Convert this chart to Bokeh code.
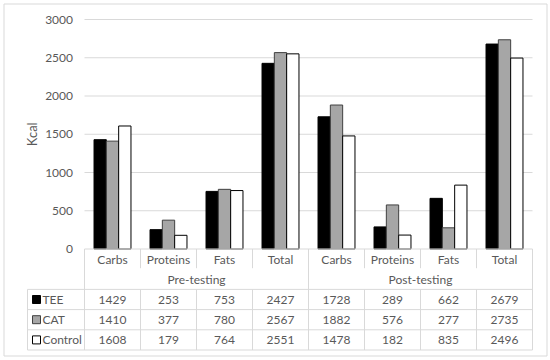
import math
from bokeh.plotting import figure
from bokeh.models import ColumnDataSource, Range1d
from bokeh.core.properties import value
from bokeh.embed import file_html
from bokeh.resources import INLINE

# ---- data ----
nutrients = ["Carbs", "Proteins", "Fats", "Total"]
phases = ["Pre-testing", "Post-testing"]
series = ["TEE", "CAT", "Control"]
tee = [1429, 253, 753, 2427, 1728, 289, 662, 2679]
cat = [1410, 377, 780, 2567, 1882, 576, 277, 2735]
control = [1608, 179, 764, 2551, 1478, 182, 835, 2496]
y_ticks = [0, 500, 1000, 1500, 2000, 2500, 3000]
y_label = "Kcal"

# ---- style ----
FONT = "Lato"
TXT = "#595959"
GRID = "#d9d9d9"
FS = "12px"
fills = ["#000000", "#a6a6a6", "#ffffff"]
outlines = ["#000000", "#404040", "#000000"]

W, H = 550, 360
n = len(phases) * len(nutrients)
cat_labels = nutrients * len(phases)
centers = [i + 0.5 for i in range(n)]
bar_w = 0.22
offsets = [-bar_w, 0.0, bar_w]
all_series = [tee, cat, control]

# ---- geometry (screen px -> data ranges) ----
col_px = 56.0          # one category column
x0_px = 84.0           # left edge of first category
ytop_px, ybot_px = 19.0, 248.5   # y=3000 and y=0
ymax = y_ticks[-1]
kpp = ymax / (ybot_px - ytop_px)  # kcal per px
row_px = 20.2

x_range = Range1d(-x0_px / col_px, (W - x0_px) / col_px)
y_range = Range1d(-(H - ybot_px) * kpp, ymax + ytop_px * kpp)

p = figure(width=W, height=H, x_range=x_range, y_range=y_range,
           output_backend="svg", toolbar_location=None,
           x_axis_location=None, y_axis_location=None,
           min_border_left=0, min_border_right=0, min_border_top=0, min_border_bottom=0)
p.extra_y_ranges = {"tbl": Range1d((H - ybot_px) / row_px, -ybot_px / row_px)}
p.outline_line_color = None
p.grid.visible = False
p.background_fill_color = "white"
p.border_fill_color = "white"

# outer chart border
p.quad(left=[(3.5 - x0_px) / col_px], right=[(546.5 - x0_px) / col_px],
       top=[(3.5 - ybot_px) / row_px], bottom=[(355.5 - ybot_px) / row_px],
       y_range_name="tbl", fill_color=None, line_color=GRID, line_width=1)

# gridlines
gy = y_ticks[1:]
p.segment(x0=[0] * len(gy), x1=[n] * len(gy), y0=gy, y1=gy, line_color=GRID, line_width=1)

# y tick labels and axis title
p.text(x=[-11.5 / col_px] * len(y_ticks), y=y_ticks, text=[str(v) for v in y_ticks],
       text_font=value(FONT), text_font_size=FS, text_color=TXT,
       text_align="right", text_baseline="middle")
p.text(x=[(31 - x0_px) / col_px], y=[ymax / 2], text=[y_label], angle=math.pi / 2,
       text_font=value(FONT), text_font_size="13px", text_color=TXT,
       text_align="center", text_baseline="middle")

# bars
for vals, off, fc, lc in zip(all_series, offsets, fills, outlines):
    src = ColumnDataSource(dict(x=[c + off for c in centers], top=vals))
    p.vbar(x="x", top="top", bottom=0, width=bar_w, source=src,
           fill_color=fc, line_color=lc, line_width=1)

# ---- data table (row units, y grows downward) ----
legend_w = 57 / col_px
hy = [0, 2, 3, 4, 5]
hx0 = [0, -legend_w, -legend_w, -legend_w, -legend_w]
p.segment(x0=hx0, y0=hy, x1=[n] * len(hy), y1=hy, y_range_name="tbl",
          line_color=GRID, line_width=1)
vx, vy0, vy1 = [-legend_w], [2], [5]
group_edges = [k * len(nutrients) for k in range(len(phases) + 1)]
for i in range(n + 1):
    if i in group_edges:
        vx.append(i); vy0.append(0); vy1.append(5)
    else:
        vx.append(i); vy0.append(0); vy1.append(0.95)
        vx.append(i); vy0.append(2); vy1.append(5)
p.segment(x0=vx, y0=vy0, x1=vx, y1=vy1, y_range_name="tbl", line_color=GRID, line_width=1)

common = dict(text_font=value(FONT), text_font_size=FS, text_color=TXT,
              text_align="center", text_baseline="middle", y_range_name="tbl")
p.text(x=centers, y=[0.5] * n, text=cat_labels, **common)
gx = [k * len(nutrients) + len(nutrients) / 2 for k in range(len(phases))]
p.text(x=gx, y=[1.5] * len(phases), text=phases, **common)
for r, vals in enumerate(all_series):
    p.text(x=centers, y=[2.5 + r] * n, text=[str(v) for v in vals], **common)

# legend keys
ry = [2.5 + r for r in range(len(series))]
p.scatter(x=[(36 - x0_px) / col_px] * len(series), y=ry, marker="square", size=8,
          fill_color=fills, line_color=outlines, line_width=1, y_range_name="tbl")
p.text(x=[(42 - x0_px) / col_px] * len(series), y=ry, text=series, text_font=value(FONT),
       text_font_size=FS, text_color=TXT, text_align="left", text_baseline="middle",
       y_range_name="tbl")

open("out.html", "w").write(file_html(p, INLINE))
